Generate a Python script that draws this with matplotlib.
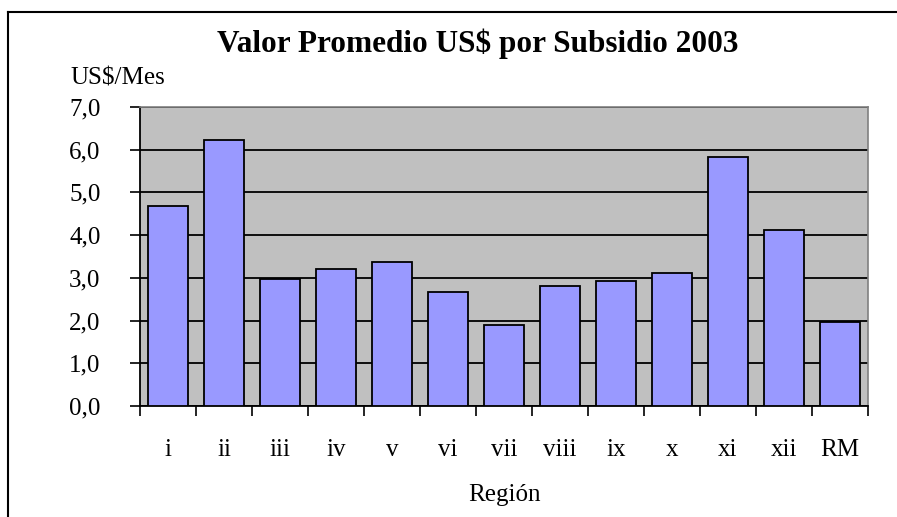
import matplotlib
matplotlib.use("Agg")
import matplotlib.pyplot as plt
from matplotlib.lines import Line2D

categories = ["i", "ii", "iii", "iv", "v", "vi", "vii", "viii", "ix", "x", "xi", "xii", "RM"]
values = [4.69, 6.22, 2.98, 3.20, 3.36, 2.67, 1.90, 2.82, 2.93, 3.12, 5.84, 4.11, 1.97]
yticks = [0, 1, 2, 3, 4, 5, 6, 7]
ytick_labels = ["0,0", "1,0", "2,0", "3,0", "4,0", "5,0", "6,0", "7,0"]

plt.rcParams['font.family'] = ['Liberation Serif', 'DejaVu Serif']

W, H = 897, 517
fig = plt.figure(figsize=(W / 100, H / 100), dpi=100)
fig.patch.set_facecolor("white")

ax = fig.add_axes([140 / W, 1 - 406 / H, (868 - 140) / W, (406 - 107) / H])
ax.set_facecolor("#C0C0C0")

x = list(range(len(categories)))
ax.bar(x, values, width=0.70, color="#9999FF", edgecolor="black", linewidth=1.3, zorder=3)

ax.set_xlim(-0.5, len(categories) - 0.5)
ax.set_ylim(0, 7)
ax.set_yticks(yticks)
ax.set_yticklabels(ytick_labels, fontsize=18)
ax.yaxis.grid(True, color="black", linewidth=1.3, zorder=1)
ax.set_axisbelow(True)

ax.set_xticks([i - 0.5 for i in range(len(categories) + 1)])
ax.set_xticklabels([])
ax.set_xticks(x, minor=True)
ax.set_xticklabels(categories, minor=True, fontsize=18)
ax.tick_params(axis="x", which="major", direction="out", length=7, width=1.2, color="black")
ax.tick_params(axis="x", which="minor", length=0, pad=24)
ax.tick_params(axis="y", direction="out", length=7, width=1.2, color="black", pad=21.5)

for s in ["top", "right"]:
    ax.spines[s].set_color("#808080")
    ax.spines[s].set_linewidth(1.2)
for s in ["left", "bottom"]:
    ax.spines[s].set_color("black")
    ax.spines[s].set_linewidth(1.3)

fig.text(504 / W, 1 - 495 / H, "Región", ha="center", va="center", fontsize=18)
fig.text(478 / W, 1 - 44 / H, "Valor Promedio US$ por Subsidio 2003", ha="center", va="center",
         fontsize=22.5, fontweight="bold")
fig.text(70 / W, 1 - 79 / H, "US$/Mes", ha="left", va="center", fontsize=18)

# outer chart border (extends past right and bottom edges)
fig.add_artist(Line2D([8 / W, 1.0], [1 - 12 / H, 1 - 12 / H], transform=fig.transFigure,
                      color="black", linewidth=1.5))
fig.add_artist(Line2D([8 / W, 8 / W], [1 - 12 / H, 0.0], transform=fig.transFigure,
                      color="black", linewidth=1.5))

fig.savefig("out.png", dpi=100, facecolor="white")
